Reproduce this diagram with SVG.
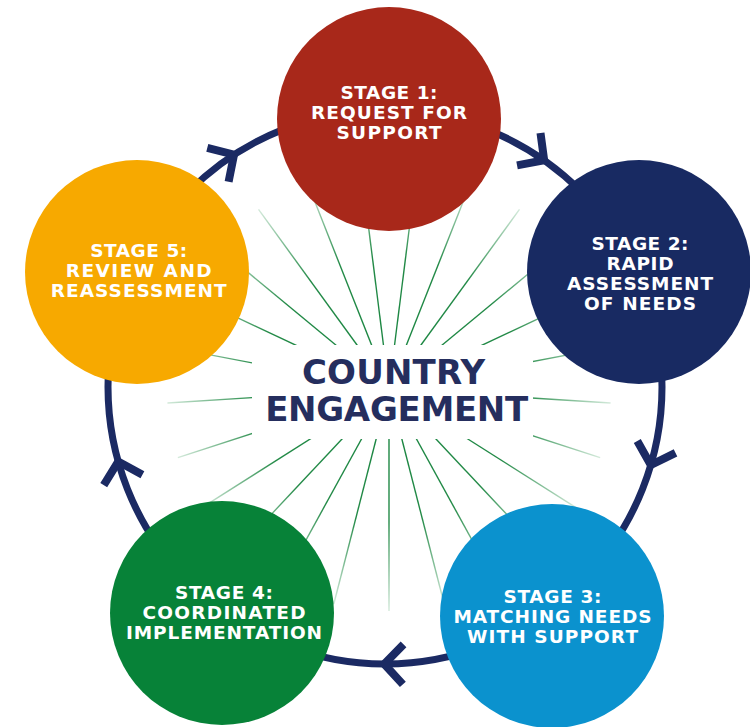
<svg xmlns="http://www.w3.org/2000/svg" width="750" height="727" viewBox="0 0 750 727">
  <defs>
    <style>
      .stage { font-family: "DejaVu Sans", "Liberation Sans", sans-serif; font-weight: bold; font-size: 18.5px; fill: #ffffff; text-anchor: middle; }
      .center { font-family: "DejaVu Sans", "Liberation Sans", sans-serif; font-weight: bold; font-size: 34px; fill: #252e5e; text-anchor: middle; }
      .ray { stroke: url(#rayGrad); stroke-width: 1.4; fill: none; }
      .ring { fill: none; stroke: #1b2a63; stroke-width: 7; }
      .chev { fill: none; stroke: #1b2a63; stroke-width: 8; stroke-linejoin: miter; stroke-linecap: butt; }
    </style>
    <radialGradient id="rayGrad" gradientUnits="userSpaceOnUse" cx="0" cy="0" r="222">
      <stop offset="0" stop-color="#17843f"/>
      <stop offset="0.6" stop-color="#238a47"/>
      <stop offset="1" stop-color="#d4eadb"/>
    </radialGradient>
    <polyline id="chevron" class="chev" points="-23,-20 -4,0 -23,20"/>
  </defs>
  <rect width="750" height="727" fill="#ffffff"/>

  <g id="rays" transform="translate(389,389)">
    <line class="ray" x2="222" transform="rotate(90)"/>
    <line class="ray" x2="222" transform="rotate(104.4)"/>
    <line class="ray" x2="222" transform="rotate(118.8)"/>
    <line class="ray" x2="222" transform="rotate(133.2)"/>
    <line class="ray" x2="222" transform="rotate(147.6)"/>
    <line class="ray" x2="222" transform="rotate(162)"/>
    <line class="ray" x2="222" transform="rotate(176.4)"/>
    <line class="ray" x2="222" transform="rotate(190.8)"/>
    <line class="ray" x2="222" transform="rotate(205.2)"/>
    <line class="ray" x2="222" transform="rotate(219.6)"/>
    <line class="ray" x2="222" transform="rotate(234)"/>
    <line class="ray" x2="222" transform="rotate(248.4)"/>
    <line class="ray" x2="222" transform="rotate(262.8)"/>
    <line class="ray" x2="222" transform="rotate(277.2)"/>
    <line class="ray" x2="222" transform="rotate(291.6)"/>
    <line class="ray" x2="222" transform="rotate(306)"/>
    <line class="ray" x2="222" transform="rotate(320.4)"/>
    <line class="ray" x2="222" transform="rotate(334.8)"/>
    <line class="ray" x2="222" transform="rotate(349.2)"/>
    <line class="ray" x2="222" transform="rotate(3.6)"/>
    <line class="ray" x2="222" transform="rotate(18)"/>
    <line class="ray" x2="222" transform="rotate(32.4)"/>
    <line class="ray" x2="222" transform="rotate(46.8)"/>
    <line class="ray" x2="222" transform="rotate(61.2)"/>
    <line class="ray" x2="222" transform="rotate(75.6)"/>
  </g>

  <g id="connectors">
    <circle class="ring" cx="385" cy="387" r="277"/>
    <use href="#chevron" transform="translate(237.4,152.6) rotate(327.8)"/>
    <use href="#chevron" transform="translate(547.4,162.6) rotate(35.9)"/>
    <use href="#chevron" transform="translate(649.6,468.9) rotate(107.2)"/>
    <use href="#chevron" transform="translate(380.2,664) rotate(181)"/>
    <use href="#chevron" transform="translate(117.2,457.7) rotate(255.2)"/>
  </g>

  <g id="center">
    <rect x="252" y="345" width="281" height="94" fill="#ffffff"/>
    <text class="center" x="393.5" y="384" textLength="183" lengthAdjust="spacing">COUNTRY</text>
    <text class="center" x="396.7" y="421" textLength="263" lengthAdjust="spacing">ENGAGEMENT</text>
  </g>

  <g id="stage1">
    <circle cx="389" cy="119" r="112" fill="#a8281a"/>
    <text class="stage" x="389" y="99" textLength="97" lengthAdjust="spacing">STAGE 1:</text>
    <text class="stage" x="389" y="119" textLength="156" lengthAdjust="spacing">REQUEST FOR</text>
    <text class="stage" x="389" y="139" textLength="105" lengthAdjust="spacing">SUPPORT</text>
  </g>

  <g id="stage2">
    <circle cx="639" cy="272" r="112" fill="#182a62"/>
    <text class="stage" x="640" y="249.5" textLength="97" lengthAdjust="spacing">STAGE 2:</text>
    <text class="stage" x="640" y="270" textLength="67" lengthAdjust="spacing">RAPID</text>
    <text class="stage" x="640" y="290" textLength="146" lengthAdjust="spacing">ASSESSMENT</text>
    <text class="stage" x="640" y="310" textLength="112" lengthAdjust="spacing">OF NEEDS</text>
  </g>

  <g id="stage3">
    <circle cx="552" cy="616" r="112" fill="#0b92ce"/>
    <text class="stage" x="552.5" y="602.5" textLength="98" lengthAdjust="spacing">STAGE 3:</text>
    <text class="stage" x="552.5" y="622.7" textLength="198" lengthAdjust="spacing">MATCHING NEEDS</text>
    <text class="stage" x="552.5" y="642.7" textLength="171" lengthAdjust="spacing">WITH SUPPORT</text>
  </g>

  <g id="stage4">
    <circle cx="222" cy="613" r="112" fill="#078238"/>
    <text class="stage" x="224" y="599" textLength="98" lengthAdjust="spacing">STAGE 4:</text>
    <text class="stage" x="224" y="619.3" textLength="163" lengthAdjust="spacing">COORDINATED</text>
    <text class="stage" x="224" y="639.3" textLength="196" lengthAdjust="spacing">IMPLEMENTATION</text>
  </g>

  <g id="stage5">
    <circle cx="137" cy="272" r="112" fill="#f7a900"/>
    <text class="stage" x="138.7" y="257.3" textLength="97" lengthAdjust="spacing">STAGE 5:</text>
    <text class="stage" x="138.7" y="277.3" textLength="146" lengthAdjust="spacing">REVIEW AND</text>
    <text class="stage" x="138.7" y="297.3" textLength="176" lengthAdjust="spacing">REASSESSMENT</text>
  </g>
</svg>
